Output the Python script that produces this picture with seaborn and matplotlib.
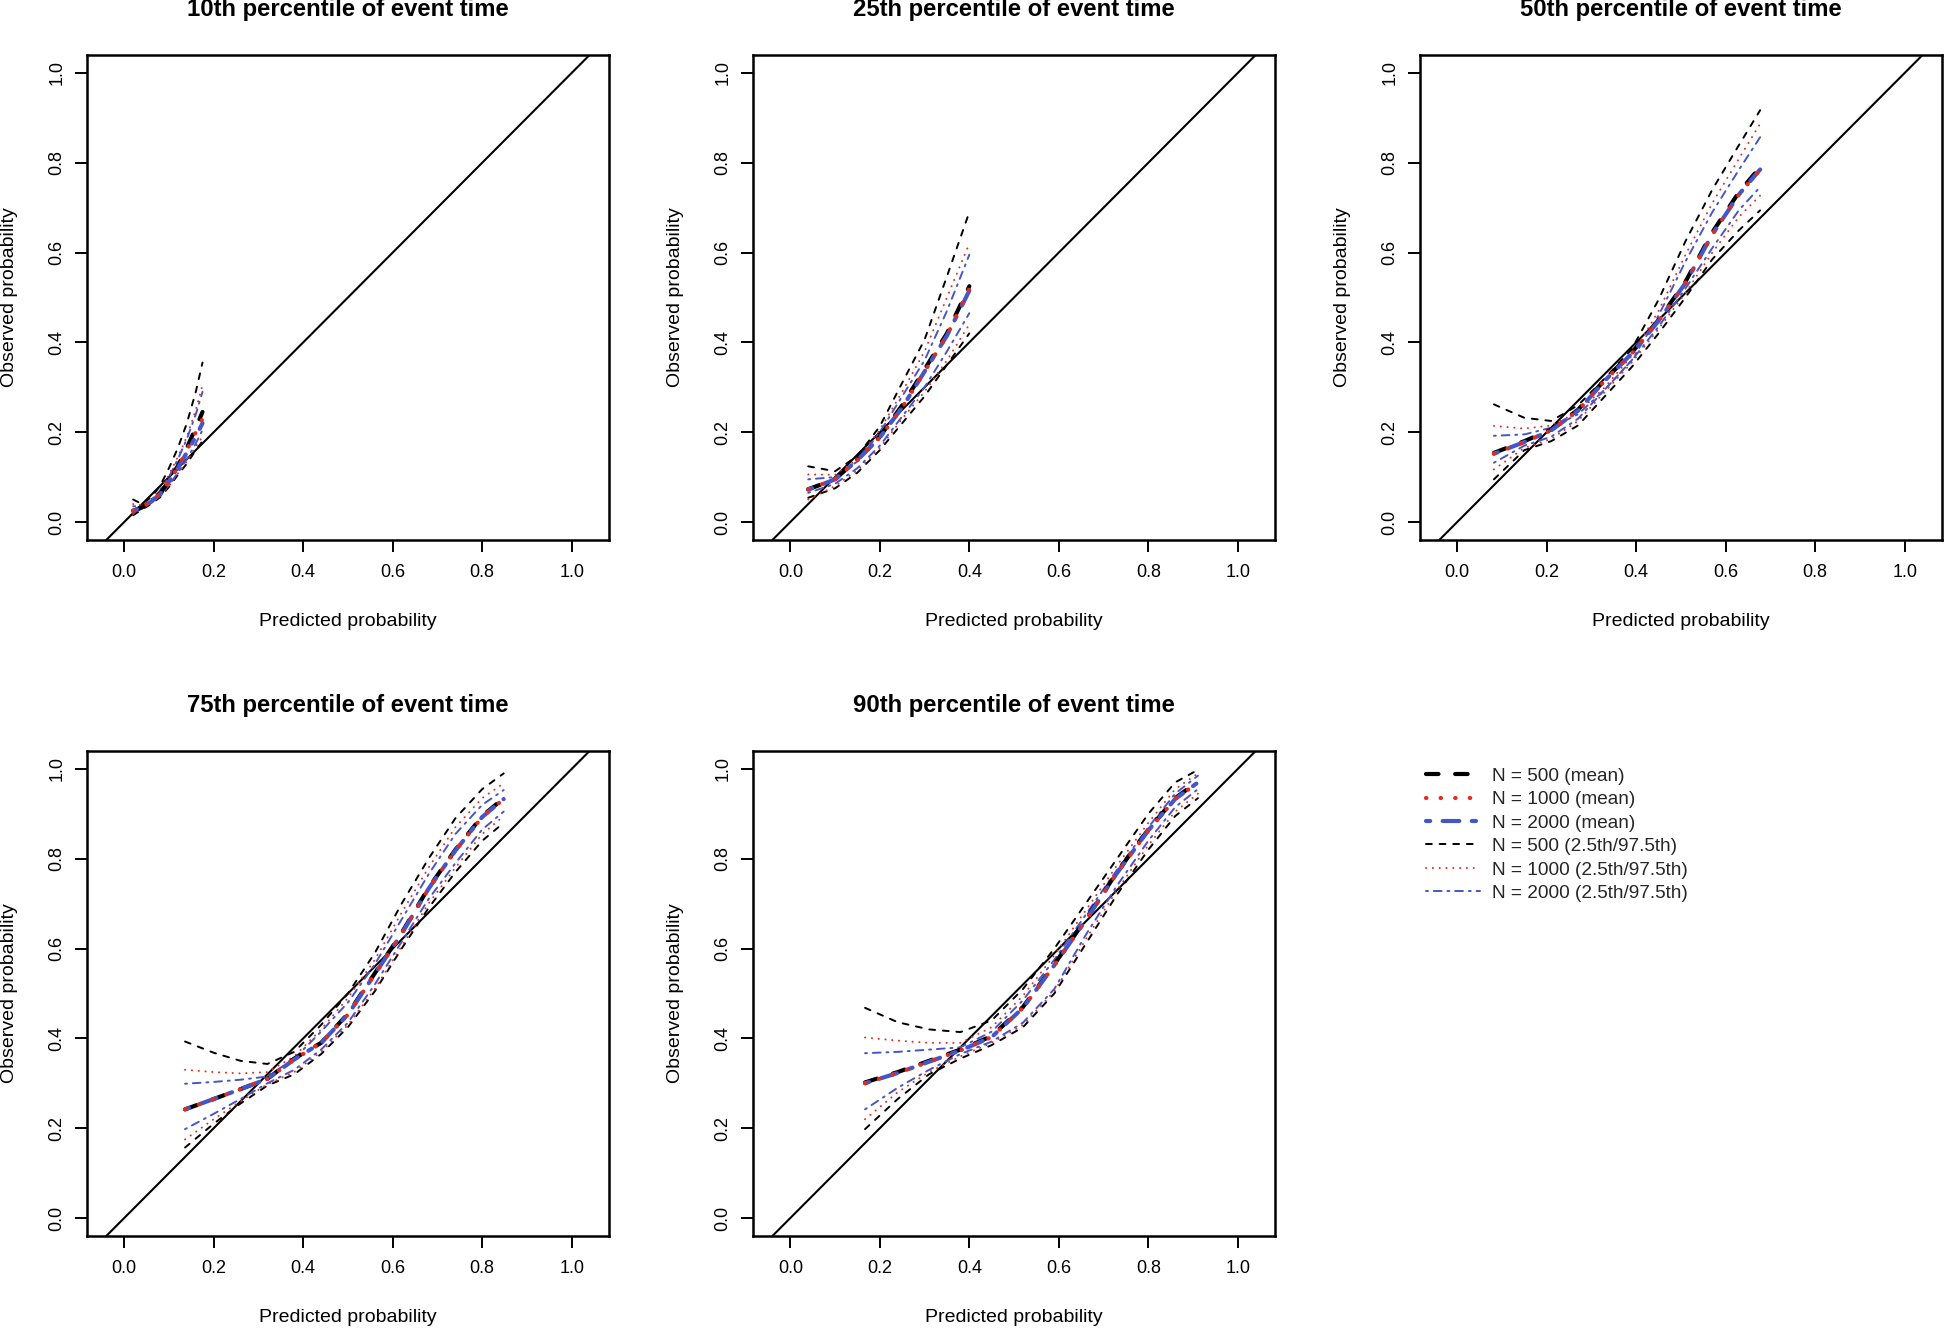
import numpy as np
import pandas as pd
import matplotlib
matplotlib.use("Agg")
import matplotlib.pyplot as plt
import seaborn as sns
from matplotlib.lines import Line2D

sns.set_theme(style="ticks")
plt.rcParams["font.family"] = ["Liberation Sans", "DejaVu Sans"]

# ---------------- data ----------------
titles = ["10th percentile of event time", "25th percentile of event time",
          "50th percentile of event time", "75th percentile of event time",
          "90th percentile of event time"]
tick_vals = [0.0, 0.2, 0.4, 0.6, 0.8, 1.0]
tick_labels = ["0.0", "0.2", "0.4", "0.6", "0.8", "1.0"]
legend_labels = ["N = 500 (mean)", "N = 1000 (mean)", "N = 2000 (mean)",
                 "N = 500 (2.5th/97.5th)", "N = 1000 (2.5th/97.5th)", "N = 2000 (2.5th/97.5th)"]

# 10th percentile
p10_x      = [0.02, 0.04, 0.06, 0.08, 0.10, 0.12, 0.14, 0.16, 0.175]
p10_m500   = [0.025, 0.033, 0.045, 0.063, 0.092, 0.125, 0.165, 0.21, 0.245]
p10_m1000  = [0.025, 0.033, 0.045, 0.062, 0.090, 0.122, 0.160, 0.20, 0.230]
p10_m2000  = [0.025, 0.033, 0.045, 0.062, 0.090, 0.120, 0.155, 0.19, 0.220]
p10_u500   = [0.050, 0.040, 0.055, 0.080, 0.120, 0.165, 0.220, 0.29, 0.355]
p10_u1000  = [0.040, 0.038, 0.050, 0.072, 0.105, 0.145, 0.190, 0.25, 0.305]
p10_u2000  = [0.035, 0.036, 0.048, 0.070, 0.100, 0.140, 0.185, 0.24, 0.290]
p10_l500   = [0.015, 0.028, 0.040, 0.055, 0.078, 0.105, 0.130, 0.16, 0.180]
p10_l1000  = [0.018, 0.030, 0.042, 0.057, 0.080, 0.108, 0.135, 0.168, 0.190]
p10_l2000  = [0.020, 0.030, 0.043, 0.058, 0.082, 0.110, 0.140, 0.175, 0.205]

# 25th percentile
p25_x      = [0.04, 0.10, 0.15, 0.20, 0.25, 0.30, 0.35, 0.40]
p25_m500   = [0.073, 0.095, 0.140, 0.190, 0.260, 0.340, 0.420, 0.525]
p25_m1000  = [0.073, 0.095, 0.138, 0.188, 0.255, 0.335, 0.415, 0.520]
p25_m2000  = [0.072, 0.095, 0.138, 0.188, 0.255, 0.335, 0.415, 0.515]
p25_u500   = [0.124, 0.113, 0.147, 0.213, 0.310, 0.406, 0.547, 0.690]
p25_u1000  = [0.106, 0.105, 0.140, 0.205, 0.290, 0.380, 0.500, 0.620]
p25_u2000  = [0.095, 0.100, 0.135, 0.200, 0.280, 0.360, 0.470, 0.595]
p25_l500   = [0.054, 0.075, 0.110, 0.160, 0.220, 0.280, 0.350, 0.420]
p25_l1000  = [0.050, 0.080, 0.115, 0.165, 0.230, 0.290, 0.360, 0.440]
p25_l2000  = [0.065, 0.085, 0.120, 0.170, 0.235, 0.300, 0.380, 0.465]

# 50th percentile
p50_x      = [0.082, 0.15, 0.21, 0.27, 0.33, 0.39, 0.45, 0.51, 0.57, 0.63, 0.677]
p50_m500   = [0.154, 0.180, 0.206, 0.250, 0.317, 0.377, 0.450, 0.535, 0.645, 0.735, 0.790]
p50_m1000  = [0.152, 0.178, 0.204, 0.248, 0.315, 0.375, 0.448, 0.532, 0.640, 0.730, 0.785]
p50_m2000  = [0.152, 0.178, 0.204, 0.248, 0.315, 0.375, 0.448, 0.532, 0.640, 0.730, 0.785]
p50_u500   = [0.262, 0.232, 0.225, 0.260, 0.320, 0.385, 0.495, 0.625, 0.740, 0.840, 0.917]
p50_u1000  = [0.214, 0.208, 0.215, 0.245, 0.300, 0.370, 0.470, 0.595, 0.710, 0.810, 0.887]
p50_u2000  = [0.192, 0.195, 0.210, 0.240, 0.295, 0.360, 0.460, 0.580, 0.690, 0.785, 0.857]
p50_l500   = [0.095, 0.160, 0.180, 0.215, 0.280, 0.345, 0.420, 0.500, 0.585, 0.650, 0.694]
p50_l1000  = [0.117, 0.165, 0.185, 0.225, 0.290, 0.355, 0.430, 0.510, 0.600, 0.680, 0.727]
p50_l2000  = [0.132, 0.170, 0.190, 0.230, 0.295, 0.360, 0.435, 0.520, 0.610, 0.695, 0.746]

# 75th percentile
p75_x      = [0.136, 0.20, 0.26, 0.32, 0.38, 0.44, 0.50, 0.56, 0.62, 0.68, 0.74, 0.80, 0.848]
p75_m500   = [0.242, 0.265, 0.287, 0.310, 0.355, 0.390, 0.455, 0.545, 0.635, 0.735, 0.820, 0.895, 0.935]
p75_m1000  = [0.242, 0.265, 0.287, 0.310, 0.353, 0.390, 0.453, 0.543, 0.633, 0.733, 0.818, 0.893, 0.933]
p75_m2000  = [0.242, 0.265, 0.287, 0.310, 0.353, 0.390, 0.453, 0.543, 0.633, 0.733, 0.818, 0.893, 0.933]
p75_u500   = [0.393, 0.368, 0.350, 0.343, 0.370, 0.430, 0.500, 0.590, 0.700, 0.800, 0.890, 0.955, 0.990]
p75_u1000  = [0.330, 0.325, 0.322, 0.325, 0.360, 0.420, 0.490, 0.575, 0.680, 0.780, 0.870, 0.935, 0.968]
p75_u2000  = [0.299, 0.303, 0.308, 0.315, 0.355, 0.415, 0.480, 0.565, 0.665, 0.765, 0.855, 0.920, 0.953]
p75_l500   = [0.157, 0.210, 0.255, 0.295, 0.320, 0.365, 0.425, 0.505, 0.600, 0.690, 0.770, 0.840, 0.880]
p75_l1000  = [0.175, 0.220, 0.260, 0.298, 0.325, 0.370, 0.430, 0.510, 0.605, 0.700, 0.780, 0.855, 0.895]
p75_l2000  = [0.198, 0.232, 0.265, 0.300, 0.330, 0.375, 0.435, 0.520, 0.615, 0.710, 0.790, 0.865, 0.905]

# 90th percentile
p90_x      = [0.167, 0.24, 0.31, 0.38, 0.45, 0.52, 0.59, 0.66, 0.73, 0.80, 0.86, 0.911]
p90_m500   = [0.302, 0.325, 0.350, 0.375, 0.405, 0.470, 0.565, 0.665, 0.770, 0.865, 0.935, 0.972]
p90_m1000  = [0.300, 0.323, 0.348, 0.373, 0.403, 0.468, 0.563, 0.663, 0.768, 0.863, 0.933, 0.970]
p90_m2000  = [0.300, 0.323, 0.348, 0.373, 0.403, 0.468, 0.563, 0.663, 0.768, 0.863, 0.933, 0.970]
p90_u500   = [0.468, 0.436, 0.420, 0.414, 0.440, 0.510, 0.600, 0.700, 0.800, 0.900, 0.970, 0.998]
p90_u1000  = [0.402, 0.395, 0.390, 0.390, 0.425, 0.495, 0.585, 0.685, 0.785, 0.880, 0.955, 0.990]
p90_u2000  = [0.367, 0.370, 0.375, 0.380, 0.415, 0.485, 0.575, 0.675, 0.775, 0.870, 0.945, 0.985]
p90_l500   = [0.198, 0.265, 0.320, 0.355, 0.385, 0.425, 0.500, 0.610, 0.720, 0.820, 0.895, 0.935]
p90_l1000  = [0.220, 0.280, 0.325, 0.360, 0.390, 0.430, 0.505, 0.620, 0.730, 0.830, 0.905, 0.945]
p90_l2000  = [0.242, 0.290, 0.330, 0.365, 0.393, 0.435, 0.510, 0.630, 0.740, 0.840, 0.915, 0.955]

panels = [
    (p10_x, p10_m500, p10_m1000, p10_m2000, p10_u500, p10_u1000, p10_u2000, p10_l500, p10_l1000, p10_l2000),
    (p25_x, p25_m500, p25_m1000, p25_m2000, p25_u500, p25_u1000, p25_u2000, p25_l500, p25_l1000, p25_l2000),
    (p50_x, p50_m500, p50_m1000, p50_m2000, p50_u500, p50_u1000, p50_u2000, p50_l500, p50_l1000, p50_l2000),
    (p75_x, p75_m500, p75_m1000, p75_m2000, p75_u500, p75_u1000, p75_u2000, p75_l500, p75_l1000, p75_l2000),
    (p90_x, p90_m500, p90_m1000, p90_m2000, p90_u500, p90_u1000, p90_u2000, p90_l500, p90_l1000, p90_l2000),
]

# ---------------- styles ----------------
BLACK = "#000000"
RED = "#E62A1E"
BLUE = "#4656C4"
LS_DASH = (0, (3, 4))
LS_DOT = (0, (0.1, 3.4))
LS_DASHDOT = (0, (1, 3, 4, 3))
LW_THICK = 3.0
LW_THIN = 1.4
styles = {
    "500": (BLACK, LS_DASH),
    "1000": (RED, LS_DOT),
    "2000": (BLUE, LS_DASHDOT),
}

TICK_FS = 13
LABEL_FS = 14
TITLE_FS = 17.2

fig = plt.figure(figsize=(19.46, 13.28), dpi=100)
lefts = [0.0447, 0.3870, 0.7297]
bottoms = [0.5934, 0.0693]
W, H = 0.2682, 0.3652
positions = [(lefts[0], bottoms[0]), (lefts[1], bottoms[0]), (lefts[2], bottoms[0]),
             (lefts[0], bottoms[1]), (lefts[1], bottoms[1])]


def draw(ax, x, y, key, lw):
    color, ls = styles[key]
    df = pd.DataFrame({"pred": x, "obs": y})
    sns.lineplot(data=df, x="pred", y="obs", ax=ax, color=color, linewidth=lw,
                 linestyle=ls, sort=False, estimator=None, legend=False,
                 dash_capstyle="round", solid_capstyle="round")


for i, (pos, pdata, title) in enumerate(zip(positions, panels, titles)):
    ax = fig.add_axes([pos[0], pos[1], W, H])
    x, m500, m1000, m2000, u500, u1000, u2000, l500, l1000, l2000 = pdata
    # percentile bands (thin)
    draw(ax, x, u500, "500", LW_THIN)
    draw(ax, x, l500, "500", LW_THIN)
    draw(ax, x, u1000, "1000", LW_THIN)
    draw(ax, x, l1000, "1000", LW_THIN)
    draw(ax, x, u2000, "2000", LW_THIN)
    draw(ax, x, l2000, "2000", LW_THIN)
    # means (thick)
    draw(ax, x, m500, "500", LW_THICK)
    draw(ax, x, m2000, "2000", LW_THICK)
    draw(ax, x, m1000, "1000", LW_THICK)
    # reference diagonal
    ax.axline((0, 0), (1, 1), color="black", lw=1.5, zorder=1)

    ax.set_xlim(-0.0832, 1.0832)
    ax.set_ylim(-0.04, 1.04)
    ax.set_xticks(tick_vals)
    ax.set_xticklabels(tick_labels, fontsize=TICK_FS)
    ax.set_yticks(tick_vals)
    ax.set_yticklabels(tick_labels, fontsize=TICK_FS, rotation=90, va="center")
    ax.tick_params(axis="both", direction="out", length=8.6, width=1.4, color="black",
                   labelcolor="black")
    ax.tick_params(axis="x", pad=9)
    ax.tick_params(axis="y", pad=7)
    for sp in ax.spines.values():
        sp.set_visible(True)
        sp.set_linewidth(1.8)
        sp.set_color("black")
    ax.set_xlabel("Predicted probability", fontsize=LABEL_FS, color="black")
    ax.set_ylabel("Observed probability", fontsize=LABEL_FS, color="black")
    ax.xaxis.set_label_coords(0.5, -0.168)
    ax.yaxis.set_label_coords(-0.149, 0.5)
    ax.xaxis.label.set_va("center")
    ax.yaxis.label.set_va("center")
    ax.set_title(title, fontsize=TITLE_FS, fontweight="bold", pad=28, color="black")
    ax.set_facecolor("white")

handles = [
    Line2D([0], [0], color=BLACK, lw=LW_THICK, linestyle=LS_DASH, dash_capstyle="round"),
    Line2D([0], [0], color=RED, lw=LW_THICK, linestyle=LS_DOT, dash_capstyle="round"),
    Line2D([0], [0], color=BLUE, lw=LW_THICK, linestyle=LS_DASHDOT, dash_capstyle="round"),
    Line2D([0], [0], color=BLACK, lw=LW_THIN, linestyle=LS_DASH, dash_capstyle="round"),
    Line2D([0], [0], color=RED, lw=LW_THIN, linestyle=LS_DOT, dash_capstyle="round"),
    Line2D([0], [0], color=BLUE, lw=LW_THIN, linestyle=LS_DASHDOT, dash_capstyle="round"),
]
fig.legend(handles, legend_labels, loc="upper left", bbox_to_anchor=(0.733, 0.422),
           frameon=False, fontsize=13.7, handlelength=2.8, handletextpad=0.65,
           labelspacing=0.32, borderpad=0, borderaxespad=0)

fig.savefig("out.png", dpi=100, facecolor="white")
